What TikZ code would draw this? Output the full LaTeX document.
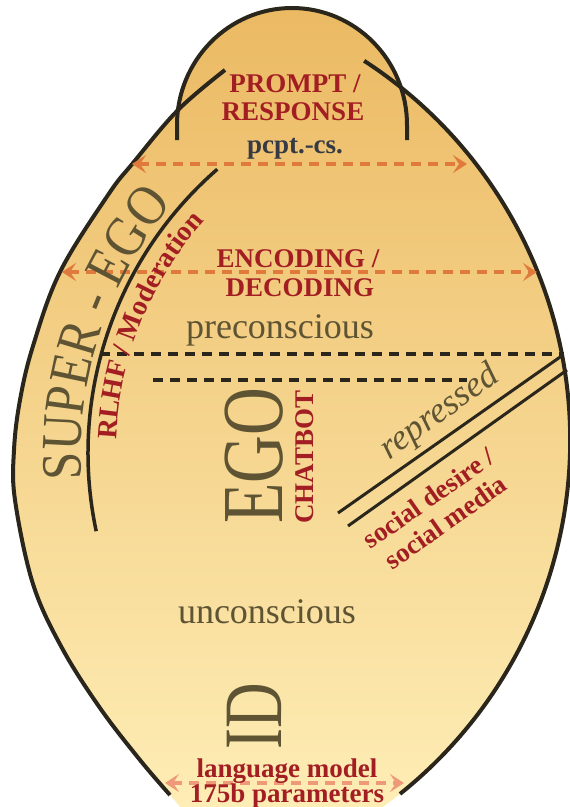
\documentclass[tikz,border=0pt]{standalone}
\usepackage{fontspec}
\setmainfont{Liberation Serif}
\newfontfamily\bigserif[FakeStretch=0.76]{Liberation Serif}
\newfontfamily\midserif[FakeStretch=0.87]{Liberation Serif}
\usepackage{tikz}
\usetikzlibrary{arrows.meta, decorations.text}
\definecolor{egoOrange}{HTML}{EBB962}
\definecolor{egoMid}{HTML}{F0C878}
\definecolor{egoCream}{HTML}{FEEDB5}
\definecolor{lineDark}{HTML}{2A261C}
\definecolor{labelRed}{HTML}{A21E23}
\definecolor{wordBrown}{HTML}{5E5434}
\definecolor{slateGrey}{HTML}{353A44}
\definecolor{flowOrange}{HTML}{E07A3C}
\definecolor{flowSalmon}{HTML}{EE9A78}

\begin{document}
\begin{tikzpicture}[x=1pt, y=-1pt,
  outline/.style={draw=lineDark, line width=4pt},
  layerline/.style={draw=lineDark, line width=4pt, dash pattern=on 10pt off 7pt},
  flow/.style={draw=flowOrange, line width=4.5pt, dash pattern=on 10pt off 7pt,
    >={Stealth[length=14pt, width=18pt, inset=6pt]}, <->},
  redlabel/.style={text=labelRed, font=\fontsize{27}{29}\selectfont\bfseries, inner sep=0pt},
  brownlabel/.style={text=wordBrown, font=\fontsize{36}{40}\selectfont, inner sep=0pt},
  bigword/.style={text=wordBrown, inner sep=0pt, rotate=90}]
  \useasboundingbox (0,0) rectangle (570,807);
  \coordinate (egoC) at (464,453);
  \coordinate (rightC) at (117.7,440.3);

  % body and head
  \shade[top color=egoOrange, middle color=egoMid, bottom color=egoCream]
    plot[smooth, tension=0.6] coordinates {(180,807) (170,795) (140,760) (100,708) (62,648) (33,584) (15,500) (14,450) (20,400) (33,346) (60,272) (108,195) (133,163) (178,110)}
    arc[start angle=187.4, end angle=343.6, x radius=115, y radius=117]
    -- ([shift={(-50.75:452.5)}]rightC) arc[start angle=-50.75, end angle=54.1, radius=452.5]
    -- cycle;
  \draw[outline] plot[smooth, tension=0.6] coordinates {(170,795) (140,760) (100,708) (62,648) (33,584) (15,500) (14,450) (20,400) (33,346) (60,272) (108,195) (133,163) (178,110) (225,70)};
  \draw[outline] ([shift={(-57:452.5)}]rightC) arc[start angle=-57, end angle=51.4, radius=452.5];
  \draw[outline] (177,140) -- (177,125) arc[start angle=180, end angle=360, x radius=115, y radius=117] -- (407,140);

  % super-ego boundary
  \draw[outline, line width=3.5pt] ([shift={(168:376)}]egoC) arc[start angle=168, end angle=229, radius=376];

  % layer lines
  \coordinate (preL) at (100,354);
  \coordinate (preR) at (564,354);
  \coordinate (egoL) at (153,380);
  \coordinate (egoR) at (467,380);
  \draw[layerline] (preL) -- (preR);
  \draw[layerline] (egoL) -- (egoR);

  % repression lines
  \coordinate (repA) at (338,513);
  \coordinate (repB) at (563,355);
  \coordinate (socA) at (348,526);
  \coordinate (socB) at (567,370);
  \draw[outline, line width=3pt] (repA) -- (repB);
  \draw[outline, line width=3pt] (socA) -- (socB);

  % flows
  \coordinate (pcL) at (132,164);
  \coordinate (pcR) at (467,164);
  \coordinate (encL) at (62,272);
  \coordinate (encR) at (537,272);
  \coordinate (lmL) at (165,783);
  \coordinate (lmR) at (404,783);
  \draw[flow] (pcL) -- (pcR);
  \draw[flow] (encL) -- (encR);
  \draw[flow, draw=flowSalmon] (lmL) -- (lmR);

  % labels
  \node[redlabel, anchor=base] (prompt) at (295,92) {PROMPT /};
  \node[redlabel, anchor=base] (response) at (293,120) {RESPONSE};
  \node[redlabel, text=slateGrey, anchor=base] (pcpt) at (295,153) {pcpt.-cs.};
  \node[redlabel, anchor=base] (encoding) at (298,267) {ENCODING /};
  \node[redlabel, anchor=base] (decoding) at (300,296) {DECODING};
  \node[brownlabel, anchor=base] (precon) at (280,338) {preconscious};
  \node[brownlabel, anchor=base] (uncon) at (267,623) {unconscious};
  \node[redlabel, anchor=base] (lm) at (287,777) {language model};
  \node[redlabel, anchor=base] (params) at (287,802) {175b parameters};
  \node[bigword, font=\bigserif\fontsize{87}{87}\selectfont] (ego) at (254,456) {EGO};
  \node[bigword, font=\bigserif\fontsize{83}{83}\selectfont] (id) at (254.5,716) {ID};
  \node[redlabel, rotate=90] (chatbot) at (305,457) {CHATBOT};
  \node[brownlabel, font=\fontsize{36}{40}\selectfont\itshape, rotate=36] (repressed) at (440,413) {repressed};
  \node[redlabel, rotate=35, align=center] (social) at (437,510) {social desire /\\social media};
  \path[decorate, decoration={text along path, text align=center, text color=wordBrown,
    text={|\midserif\fontsize{57}{57}\selectfont|SUPER - EGO}}]
    ([shift={(158:383)}]egoC) arc[start angle=158, end angle=238.6, radius=383];
  \path[decorate, decoration={text along path, text align=center, text color=labelRed,
    text={|\fontsize{28}{28}\selectfont\bfseries|RLHF / Moderation}}]
    ([shift={(165:348)}]egoC) arc[start angle=165, end angle=239, radius=348];
\end{tikzpicture}
\end{document}
